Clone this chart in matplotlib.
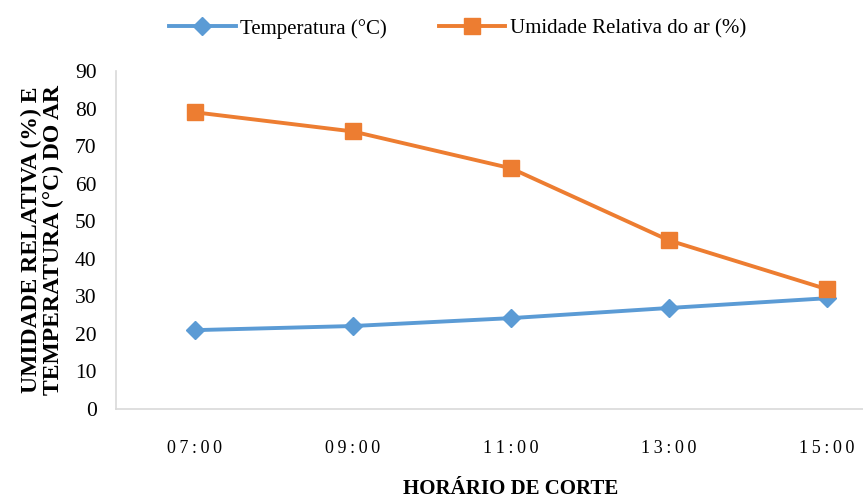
import matplotlib
matplotlib.use("Agg")
import matplotlib.pyplot as plt

horarios = ["07:00", "09:00", "11:00", "13:00", "15:00"]
temperatura = [21.0, 22.1, 24.2, 26.9, 29.5]
umidade = [79.0, 73.9, 64.1, 44.9, 31.9]

cor_temp = "#5B9BD5"
cor_umid = "#ED7D31"

plt.rcParams["font.family"] = ["Liberation Serif", "DejaVu Serif"]

fig = plt.figure(figsize=(8.63, 5.01), dpi=100)
ax = fig.add_axes([0.1344, 0.1836, 0.9154, 0.6747])

x = list(range(len(horarios)))
ax.plot(x, temperatura, color=cor_temp, lw=2.8, marker="D", ms=9,
        label="Temperatura (°C)")
ax.plot(x, umidade, color=cor_umid, lw=2.8, marker="s", ms=11,
        label="Umidade Relativa do ar (%)")

ax.set_xlim(-0.5, len(horarios) - 0.5)
ax.set_ylim(0, 90)
ax.set_yticks(range(0, 91, 10))
ax.set_xticks(x)
ax.set_xticklabels(["\u2009".join(h) for h in horarios], fontsize=13)
ax.tick_params(axis="y", labelsize=15.5, length=0, pad=14)
ax.tick_params(axis="x", length=0, pad=22)

for s in ["top", "right"]:
    ax.spines[s].set_visible(False)
for s in ["left", "bottom"]:
    ax.spines[s].set_color("#D9D9D9")
    ax.spines[s].set_linewidth(1.2)

ax.set_ylabel("UMIDADE RELATIVA (%) E\nTEMPERATURA (°C) DO AR",
              fontsize=17, fontweight="bold", linespacing=1.0, labelpad=8)
ax.set_xlabel("HORÁRIO DE CORTE", fontsize=15, fontweight="bold", labelpad=16)

fig.legend(loc="upper center", bbox_to_anchor=(0.53, 1.0), ncol=2,
           frameon=False, fontsize=15, handlelength=3.2, columnspacing=2.5,
           handletextpad=0.2)

fig.savefig("out.png", dpi=100)
